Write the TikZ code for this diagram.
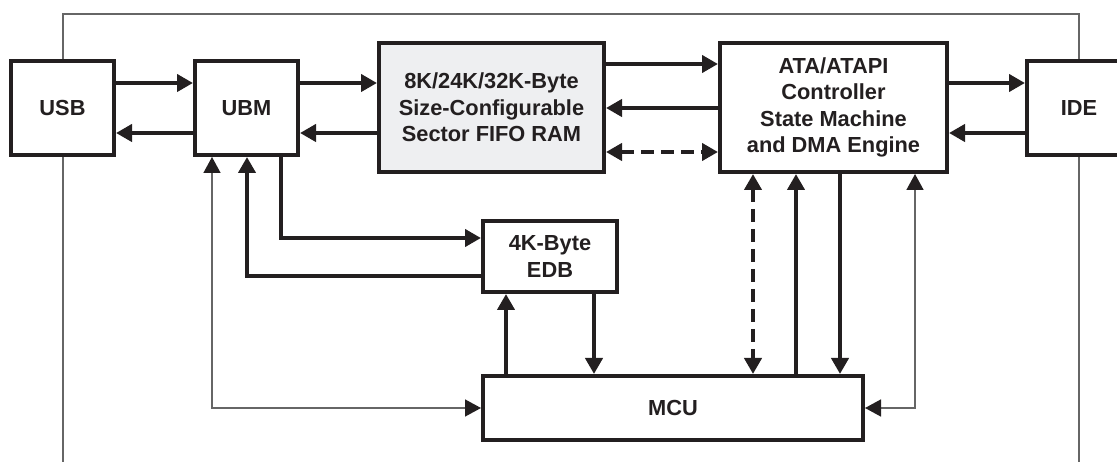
\documentclass[tikz,border=0pt]{standalone}
\usepackage{fontspec}
\setmainfont{Liberation Sans}
\usetikzlibrary{arrows.meta}

\definecolor{ink}{HTML}{231F20}
\definecolor{ramgray}{HTML}{EEEFF1}

\begin{document}
\begin{tikzpicture}[x=1pt,y=-1pt,
    >={Triangle[length=16pt,width=17pt]},
    blk/.style={draw=ink,line width=4pt,fill=white,align=center,inner sep=0pt,
      text=ink,font=\fontsize{21.8}{26.5}\selectfont\bfseries},
    bus/.style={draw=ink,line width=4pt},
    ctl/.style={draw=black!60,line width=1.5pt,>={Triangle[length=16pt,width=17pt,color=ink]}},
    frame/.style={draw=black!60,line width=1.2pt}]
        \useasboundingbox (0,0) rectangle (1117,462);
        \clip (0,0) rectangle (1117,462);
        \draw[frame] (63,470) -- (63,14) -- (1079,14) -- (1079,470);
        % blocks
        \node[blk,minimum width=103pt,minimum height=94pt] (usb) at (62.5,108) {USB};
        \node[blk,minimum width=103pt,minimum height=94pt] (ubm) at (246.5,108) {UBM};
        \node[blk,fill=ramgray,minimum width=225pt,minimum height=129pt] (fifo) at (491.5,107.5)
            {8K/24K/32K-Byte\\Size-Configurable\\Sector FIFO RAM};
        \node[blk,minimum width=227pt,minimum height=129pt] (ata) at (833.5,107.5)
            {ATA/ATAPI\\Controller\\State Machine\\and DMA Engine};
        \node[blk,minimum width=104pt,minimum height=94pt] (ide) at (1079,108) {IDE};
        \node[blk,minimum width=134pt,minimum height=71pt] (edb) at (550,256.5) {4K-Byte\\EDB};
        \node[blk,minimum width=380pt,minimum height=64pt] (mcu) at (673,408) {MCU};
        % data paths
        \draw[bus,->] (usb.east|-0,83) -- (ubm.west|-0,83);
        \draw[bus,->] (ubm.west|-0,133) -- (usb.east|-0,133);
        \draw[bus,->] (ubm.east|-0,83) -- (fifo.west|-0,83);
        \draw[bus,->] (fifo.west|-0,133) -- (ubm.east|-0,133);
        \draw[bus,->] (fifo.east|-0,64) -- (ata.west|-0,64);
        \draw[bus,->] (ata.west|-0,108) -- (fifo.east|-0,108);
        \draw[bus,<->,dash pattern=on 13pt off 7pt] (fifo.east|-0,152) -- (ata.west|-0,152);
        \draw[bus,->] (ata.east|-0,83) -- (ide.west|-0,83);
        \draw[bus,->] (ide.west|-0,133) -- (ata.east|-0,133);
        \draw[bus,->] (edb.west|-0,276) -| (ubm.south-|247,0);
        \draw[bus,->] (ubm.south-|281,0) |- (edb.west|-0,238);
        \draw[bus,->] (mcu.north-|506,0) -- (edb.south-|506,0);
        \draw[bus,->] (edb.south-|594,0) -- (mcu.north-|594,0);
        \draw[bus,<->,dash pattern=on 13pt off 7pt] (ata.south-|753,0) -- (mcu.north-|753,0);
        \draw[bus,->] (mcu.north-|796,0) -- (ata.south-|796,0);
        \draw[bus,->] (ata.south-|840,0) -- (mcu.north-|840,0);
        % control lines
        \draw[ctl,<->] (ubm.south-|212,0) |- (mcu.west|-0,408);
        \draw[ctl,<->] (mcu.east|-0,408) -| (ata.south-|915,0);
\end{tikzpicture}
\end{document}
